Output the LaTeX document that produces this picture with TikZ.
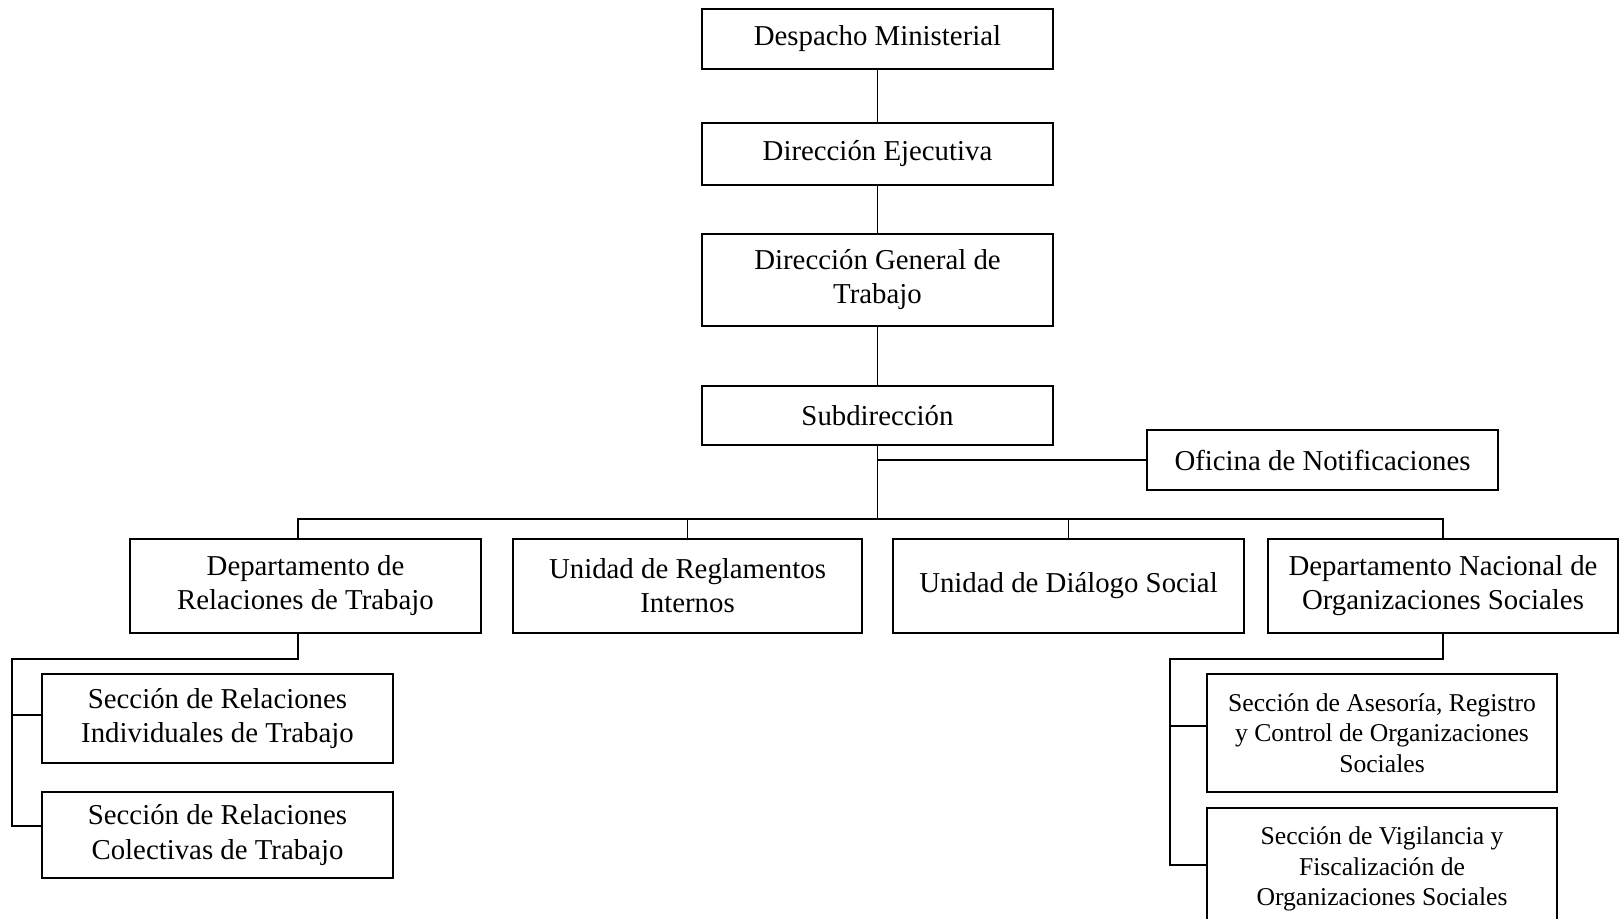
\documentclass[tikz,border=0pt]{standalone}
\usepackage{fontspec}
\setmainfont{Liberation Serif}
\tikzset{
  box/.style = {draw, line width = 0.8pt, align = center, inner sep = 0pt,
    minimum width = 7.02cm, font = \fontsize{16.4}{19.4}\selectfont},
  smallbox/.style = {box, font = \fontsize{14.6}{17.2}\selectfont},
  link/.style = {line width = 0.8pt}
}
\begin{document}
\begin{tikzpicture}[x = 0.02cm, y = -0.02cm]
\useasboundingbox (0, 0) rectangle (1623, 919);
\node[box, minimum height = 1.2cm] (desp) at (877.5, 39) {Despacho Ministerial};
\node[box, minimum height = 1.24cm] (ejec) at (877.5, 154) {Dirección Ejecutiva};
\node[box, minimum height = 1.84cm] (dgt) at (877.5, 280) {Dirección General de\\Trabajo};
\node[box, minimum height = 1.18cm] (sub) at (877.5, 415.5) {Subdirección};
\node[box, minimum height = 1.2cm] (ofi) at (1322.5, 460) {Oficina de Notificaciones};
\node[box, minimum height = 1.88cm] (drt) at (305.5, 586) {Departamento de\\Relaciones de Trabajo};
\node[box, minimum height = 1.88cm, minimum width = 6.98cm] (urg) at (687.5, 586) {Unidad de Reglamentos\\Internos};
\node[box, minimum height = 1.88cm] (uds) at (1068.5, 586) {Unidad de Diálogo Social};
\node[box, minimum height = 1.88cm, minimum width = 7cm] (dnos) at (1443, 586) {Departamento Nacional de\\Organizaciones Sociales};
\node[box, minimum height = 1.78cm] (sri) at (217.5, 718.5) {Sección de Relaciones\\Individuales de Trabajo};
\node[box, minimum height = 1.72cm] (src) at (217.5, 835) {Sección de Relaciones\\Colectivas de Trabajo};
\node[smallbox, minimum height = 2.36cm, minimum width = 7cm] (sar) at (1382, 733) {Sección de Asesoría, Registro\\y Control de Organizaciones\\Sociales};
\node[smallbox, minimum height = 2.44cm, minimum width = 7cm] (svf) at (1382, 869) {Sección de Vigilancia y\\Fiscalización de\\Organizaciones Sociales};
\coordinate (bus) at (880, 519);
\coordinate (lbus) at (12, 659);
\coordinate (rbus) at (1170, 659);
\coordinate (drtup) at ([xshift = -0.15cm]drt.north);
\coordinate (drtdown) at ([xshift = -0.15cm]drt.south);
\coordinate (sriin) at ([yshift = 0.07cm]sri.west);
\coordinate (srcin) at ([yshift = 0.18cm]src.west);
\coordinate (sarin) at ([yshift = 0.14cm]sar.west);
\coordinate (svfin) at ([yshift = 0.08cm]svf.west);
\draw[link] (desp) -- (ejec);
\draw[link] (ejec) -- (dgt);
\draw[link] (dgt) -- (sub);
\draw[link] (sub.south) -- (sub.south |- bus);
\draw[link] (ofi.west) -- (ofi.west -| sub.south);
\draw[link] (drtup) |- (dnos.north |- bus) -- (dnos.north);
\draw[link] (urg.north) -- (urg.north |- bus);
\draw[link] (uds.north) -- (uds.north |- bus);
\draw[link] (drtdown) |- (lbus) |- (srcin);
\draw[link] (lbus |- sriin) -- (sriin);
\draw[link] (dnos.south) |- (rbus) |- (svfin);
\draw[link] (rbus |- sarin) -- (sarin);
\end{tikzpicture}
\end{document}
